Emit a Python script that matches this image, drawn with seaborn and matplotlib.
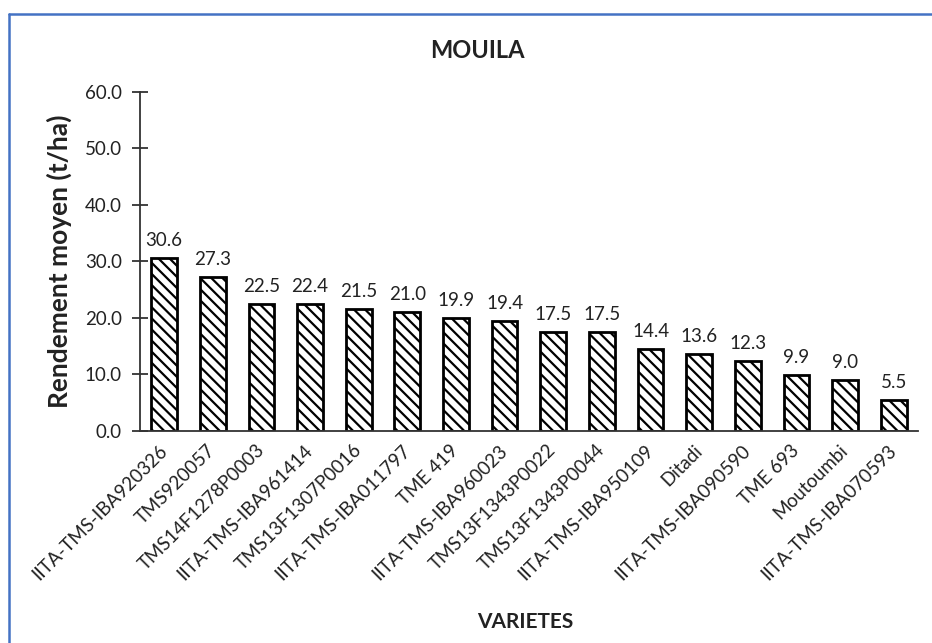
import numpy as np
import pandas as pd
import matplotlib
matplotlib.use("Agg")
import matplotlib.pyplot as plt
from matplotlib.lines import Line2D
import seaborn as sns

varietes = [
    "IITA-TMS-IBA920326", "TMS920057", "TMS14F1278P0003", "IITA-TMS-IBA961414",
    "TMS13F1307P0016", "IITA-TMS-IBA011797", "TME 419", "IITA-TMS-IBA960023",
    "TMS13F1343P0022", "TMS13F1343P0044", "IITA-TMS-IBA950109", "Ditadi",
    "IITA-TMS-IBA090590", "TME 693", "Moutoumbi", "IITA-TMS-IBA070593",
]
rendement = [30.6, 27.3, 22.5, 22.4, 21.5, 21.0, 19.9, 19.4,
             17.5, 17.5, 14.4, 13.6, 12.3, 9.9, 9.0, 5.5]
y_ticks = [0, 10, 20, 30, 40, 50, 60]

sns.set_theme(style="white")
plt.rcParams["font.family"] = ["Lato", "DejaVu Sans"]
plt.rcParams["hatch.linewidth"] = 1.6
plt.rcParams["hatch.color"] = "black"

df = pd.DataFrame({"Variete": varietes, "Rendement": rendement})

fig = plt.figure(figsize=(9.32, 6.43), dpi=100)
ax = fig.add_axes([0.150, 0.330, 0.835, 0.527])

sns.barplot(data=df, x="Variete", y="Rendement", color="white",
            edgecolor="black", linewidth=2.0, width=0.53, ax=ax)
for p in ax.patches:
    p.set_hatch("\\\\\\")
    p.set_facecolor("white")

n = len(varietes)
ax.set_xlim(-0.5, n - 0.5)
ax.set_ylim(0, 60)
ax.set_yticks(y_ticks)
ax.set_yticklabels([f"{v:.1f}" for v in y_ticks], fontsize=13.5, color="#222222")

# category labels at bar centres, tick marks at category boundaries
ax.set_xticks(range(n))
ax.set_xticklabels(varietes, rotation=45, ha="right", va="center",
                   rotation_mode="anchor", fontsize=13.5, color="#222222")
ax.tick_params(axis="x", which="major", length=0, pad=12)
ax.set_xticks(np.arange(-0.5, n, 1.0), minor=True)
ax.tick_params(axis="x", which="minor", direction="inout", length=10,
               width=1.3, color="#333333")
ax.tick_params(axis="y", direction="inout", length=12, width=1.3,
               color="#333333", left=True, pad=7)

for s in ["top", "right"]:
    ax.spines[s].set_visible(False)
for s in ["left", "bottom"]:
    ax.spines[s].set_linewidth(1.3)
    ax.spines[s].set_color("#333333")

for i, v in enumerate(rendement):
    ax.text(i, v + 1.6, f"{v:.1f}", ha="center", va="bottom",
            fontsize=13.5, color="#222222")

ax.set_xlabel("VARIETES", fontsize=15, fontweight="bold", color="#222222")
ax.xaxis.set_label_coords(0.495, -0.535)
ax.set_ylabel("Rendement moyen (t/ha)", fontsize=19, fontweight="bold",
              color="#222222")
ax.yaxis.set_label_coords(-0.087, 0.5)
fig.text(0.512, 1 - 50 / 643, "MOUILA", ha="center", va="center",
         fontsize=17, fontweight="bold", color="#222222")

# thin blue frame along the top and left edges
fig.add_artist(Line2D([0.0097, 1.0], [0.978, 0.978], transform=fig.transFigure,
                      color="#4472C4", linewidth=1.8))
fig.add_artist(Line2D([0.0097, 0.0097], [0.0, 0.978], transform=fig.transFigure,
                      color="#4472C4", linewidth=1.8))

fig.savefig("out.png", dpi=100, facecolor="white")
